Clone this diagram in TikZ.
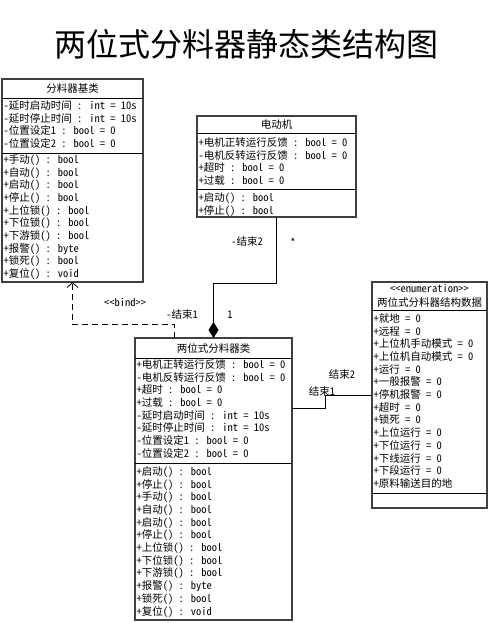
\documentclass[tikz,border=0pt]{standalone}
\usepackage{fontspec}
\setmainfont{Noto Sans CJK SC}[RawFeature=+hwid]
\usetikzlibrary{arrows.meta,calc}

\begin{document}
\begin{tikzpicture}[x=1pt,y=-1pt,
		box/.style={draw=black!75,line width=1.1pt,anchor=north west,inner sep=0pt,outer sep=0pt},
		cname/.style={inner sep=0pt,font=\fontsize{10.5}{12}\selectfont},
		rows/.style={anchor=north west,inner sep=0pt,align=left,font=\fontsize{10.5}{12.7}\selectfont},
		lbl/.style={inner sep=0pt,font=\fontsize{10.5}{12}\selectfont},
		link/.style={line width=0.8pt},
		bindline/.style={line width=0.8pt,dash pattern=on 6pt off 4pt,-{Straight Barb[length=5pt,width=11pt]}},
		compose/.style={line width=0.8pt,-{Diamond[length=16pt,width=10pt]}}]
	\useasboundingbox (0,0) rectangle (492,623);
	\node[inner sep=0pt,font=\fontsize{32}{32}\selectfont] (title) at (246,44) {两位式分料器静态类结构图};
	% base class
	\node[box,minimum width=141pt,minimum height=203pt] (base) at (2,79) {};
	\draw[link] (base.west |- 0,98)--(base.east |- 0,98);
	\draw[link] (base.west |- 0,153)--(base.east |- 0,153);
	\node[cname] (baseName) at (72.5,88.5) {分料器基类};
	\node[rows] (baseAttr) at (3.5,100.3) {-延时启动时间 : int = 10s\\-延时停止时间 : int = 10s\\-位置设定1 : bool = 0\\-位置设定2 : bool = 0};
	\node[rows] (baseOps) at (3.5,154.3) {+手动() : bool\\+自动() : bool\\+启动() : bool\\+停止() : bool\\+上位锁() : bool\\+下位锁() : bool\\+下游锁() : bool\\+报警() : byte\\+锁死() : bool\\+复位() : void};
	% motor
	\node[box,minimum width=159pt,minimum height=101pt] (motor) at (197,116) {};
	\draw[link] (motor.west |- 0,133)--(motor.east |- 0,133);
	\draw[link] (motor.west |- 0,189)--(motor.east |- 0,189);
	\node[cname] (motorName) at (276.5,124.5) {电动机};
	\node[rows] (motorAttr) at (198.5,137.3) {+电机正转运行反馈 : bool = 0\\-电机反转运行反馈 : bool = 0\\+超时 : bool = 0\\+过载 : bool = 0};
	\node[rows] (motorOps) at (198.5,192.3) {+启动() : bool\\+停止() : bool};
	% main class
	\node[box,minimum width=157pt,minimum height=282pt] (main) at (135,338) {};
	\draw[link] (main.west |- 0,358)--(main.east |- 0,358);
	\draw[link] (main.west |- 0,463)--(main.east |- 0,463);
	\node[cname] (mainName) at (213.5,348) {两位式分料器类};
	\node[rows] (mainAttr) at (136.5,359.3) {+电机正转运行反馈 : bool = 0\\-电机反转运行反馈 : bool = 0\\+超时 : bool = 0\\+过载 : bool = 0\\-延时启动时间 : int = 10s\\-延时停止时间 : int = 10s\\-位置设定1 : bool = 0\\-位置设定2 : bool = 0};
	\node[rows] (mainOps) at (136.5,466.3) {+启动() : bool\\+停止() : bool\\+手动() : bool\\+自动() : bool\\+启动() : bool\\+停止() : bool\\+上位锁() : bool\\+下位锁() : bool\\+下游锁() : bool\\+报警() : byte\\+锁死() : bool\\+复位() : void};
	% enumeration
	\node[box,minimum width=115pt,minimum height=226pt] (enum) at (372,282) {};
	\draw[link] (enum.west |- 0,310)--(enum.east |- 0,310);
	\draw[link] (enum.west |- 0,493)--(enum.east |- 0,493);
	\node[cname] (enumStereo) at (429.5,288) {<\kern0pt<enumeration>\kern0pt>};
	\node[cname] (enumName) at (429.5,302) {两位式分料器结构数据};
	\node[rows] (enumVals) at (373.5,313.3) {+就地 = 0\\+远程 = 0\\+上位机手动模式 = 0\\+上位机自动模式 = 0\\+运行 = 0\\+一般报警 = 0\\+停机报警 = 0\\+超时 = 0\\+锁死 = 0\\+上位运行 = 0\\+下位运行 = 0\\+下线运行 = 0\\+下段运行 = 0\\+原料输送目的地};
	% connectors
	\draw[compose] (motor.south)--++(0,66)-|(main.north);
	\draw[bindline] ($(main.north west)+(39,0)$)--++(0,-14)-|(base.south);
	\coordinate (assocA) at ($(main.north east)+(0,70)$);
	\coordinate (assocB) at ($(enum.north west)+(0,113)$);
	\draw[link] (assocA)--++(33,0)|-(assocB);
	\node[lbl] (endTwo) at (247,242) {-结束2};
	\node[lbl] (manyMark) at (293,242) {*};
	\node[lbl] (endOne) at (182,315) {-结束1};
	\node[lbl] (oneMark) at (230,315) {1};
	\node[lbl] (bindText) at (125,302) {<\kern0pt<bind>\kern0pt>};
	\node[lbl] (assocTwo) at (342,375) {结束2};
	\node[lbl] (assocOne) at (322,391) {结束1};
\end{tikzpicture}
\end{document}
